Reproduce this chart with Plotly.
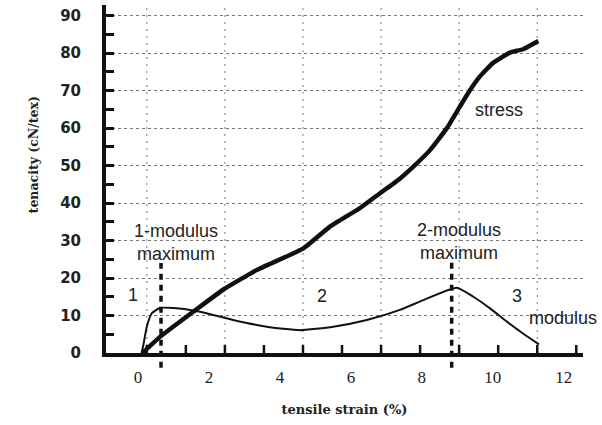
import plotly.graph_objects as go

# ---- data ----
stress_strain = [0.13, 0.62, 1.63, 2.42, 3.34, 4.66, 5.41, 6.25, 6.82, 7.38, 7.76,
                 8.23, 8.7, 9.07, 9.35, 9.63, 10.0, 10.48, 10.85, 11.28]
stress_tenacity = [0, 4.3, 11.5, 17, 22.1, 27.9, 33.7, 38.6, 42.6, 46.5, 49.7,
                   54.1, 59.9, 65.7, 70, 73.7, 77.3, 80.1, 81, 83.2]

modulus_strain = [0.1, 0.15, 0.25, 0.39, 0.62, 1.0, 1.75, 2.68, 3.63, 4.56, 5.5,
                  6.45, 7.38, 8.04, 8.98, 9.45, 9.92, 10.39, 10.85, 11.3]
modulus_value = [0, 2, 7, 10.6, 12, 12, 11, 8.8, 7, 6.1, 7,
                 8.8, 11.5, 14.1, 17.4, 15, 11.9, 8.4, 5.2, 2.3]

peak_strain = [0.65, 8.84]          # modulus maxima (dashed markers)
peak_marker_top = [24.0, 24.3]      # tenacity units
peak_marker_bottom = -3.9

x_tick_values = [0, 2, 4, 6, 8, 10, 12]
y_label_values = [0, 10, 20, 30, 40, 50, 60, 70, 80, 90]
y_half_values = [5, 15, 25, 35, 45, 55, 65, 75, 85]
# the scanned original's tick marks / grid are offset from its labels
x_mark_tick0, x_mark_step, x_mark_count = 0.25, 1.1, 12
x_grid_strain = [0.25, 2.45, 4.65, 6.85, 9.05, 11.25]

region_labels = ["1", "2", "3"]
region_x = [-0.13, 5.18, 10.67]
region_y = [15.6, 15.3, 15.3]

X_RANGE = [-0.9, 12.54]
Y_RANGE = [0, 92.8]
PLOT_H_PX = 425 - 5 - 72
X_TICK_LEN_PX = 8

INK = "#111111"
GRID = "#777777"
GRID_DASH = "2px,5px"


def y_paper(v):
    return (v - Y_RANGE[0]) / (Y_RANGE[1] - Y_RANGE[0])


def segments(pairs):
    xs, ys = [], []
    for (xa, ya), (xb, yb) in pairs:
        xs += [xa, xb, None]
        ys += [ya, yb, None]
    return xs, ys


fig = go.Figure()

# dotted vertical grid of the original (drawn underneath the curves)
gx, gy = segments([((g, Y_RANGE[0]), (g, Y_RANGE[1])) for g in x_grid_strain])
fig.add_trace(go.Scatter(x=gx, y=gy, mode="lines", name="grid",
                         showlegend=False, hoverinfo="skip",
                         line=dict(color=GRID, width=1, dash=GRID_DASH)))

# x-axis tick marks of the original (pointing up into the plot)
tick_len_units = X_TICK_LEN_PX * (Y_RANGE[1] - Y_RANGE[0]) / PLOT_H_PX
marks = [x_mark_tick0 + k * x_mark_step for k in range(x_mark_count)]
tx, ty = segments([((m, Y_RANGE[0]), (m, tick_len_units)) for m in marks])
fig.add_trace(go.Scatter(x=tx, y=ty, mode="lines", name="ticks",
                         showlegend=False, hoverinfo="skip",
                         line=dict(color=INK, width=2.5)))

fig.add_trace(go.Scatter(
    x=stress_strain, y=stress_tenacity, mode="lines", name="stress",
    line=dict(color=INK, width=4.5, shape="spline", smoothing=0.4),
    showlegend=False, hoverinfo="skip"))
fig.add_trace(go.Scatter(
    x=modulus_strain, y=modulus_value, mode="lines", name="modulus",
    line=dict(color=INK, width=2, shape="spline", smoothing=0.5),
    showlegend=False, hoverinfo="skip"))

# tails of the dashed peak markers, below the strain axis
fig.add_trace(go.Scatter(
    x=peak_strain, y=[peak_marker_bottom / 2] * len(peak_strain),
    mode="markers", cliponaxis=False, name="tails",
    showlegend=False, hoverinfo="skip",
    marker=dict(symbol="line-ns-open", size=11,
                line=dict(color=INK, width=3.5))))

# empty trace so the tick-mark axis (y2) is drawn
fig.add_trace(go.Scatter(x=[None], y=[None], yaxis="y2",
                         showlegend=False, hoverinfo="skip"))

shapes = []
for xs, top in zip(peak_strain, peak_marker_top):
    shapes.append(dict(
        type="line", xref="paper", yref="paper",
        x0=(xs - X_RANGE[0]) / (X_RANGE[1] - X_RANGE[0]),
        x1=(xs - X_RANGE[0]) / (X_RANGE[1] - X_RANGE[0]),
        y0=y_paper(peak_marker_bottom), y1=y_paper(top),
        line=dict(color=INK, width=3.5, dash="6px,5px")))

sans = "Liberation Sans, Arial, sans-serif"
TXT = "#222222"
annotations = [
    dict(x=10.17, y=64.8, xref="x", yref="y", text="stress", showarrow=False,
         font=dict(family=sans, size=18, color=TXT)),
    dict(x=1.06, y=29.6, xref="x", yref="y", text="1-modulus<br>maximum",
         showarrow=False, font=dict(family=sans, size=18, color=TXT)),
    dict(x=9.05, y=29.7, xref="x", yref="y", text="2-modulus<br>maximum",
         showarrow=False, font=dict(family=sans, size=18, color=TXT)),
    dict(x=11.97, y=9.25, xref="x", yref="y", text="modulus", showarrow=False,
         font=dict(family=sans, size=18, color=TXT)),
    dict(x=-0.17, y=0.569, xref="paper", yref="paper",
         text="<b>tenacity (cN/tex)</b>",
         textangle=-90, showarrow=False,
         font=dict(family="DejaVu Serif", size=12.5, color=TXT)),
]
for lab, lx, ly in zip(region_labels, region_x, region_y):
    annotations.append(dict(x=lx, y=ly, xref="x", yref="y", text=lab,
                            showarrow=False,
                            font=dict(family=sans, size=18, color=TXT)))

fig.update_layout(
    width=602, height=425,
    margin=dict(l=106, r=19, t=5, b=72),
    paper_bgcolor="white", plot_bgcolor="white",
    showlegend=False,
    shapes=shapes,
    annotations=annotations,
    xaxis=dict(
        range=X_RANGE, tickmode="array", tickvals=x_tick_values,
        ticks="outside", ticklen=6, tickcolor="rgba(0,0,0,0)",
        showgrid=False, zeroline=False,
        showline=True, linewidth=3.5, linecolor=INK,
        tickfont=dict(family="Liberation Serif", size=17, color=TXT),
        title=dict(text="<b>tensile strain (%)</b>", standoff=20,
                   font=dict(family="DejaVu Serif", size=13, color=TXT)),
    ),
    yaxis=dict(
        range=Y_RANGE, tickmode="array", tickvals=y_label_values,
        ticktext=["<b>%d</b>" % v for v in y_label_values],
        ticks="outside", ticklen=18, tickcolor="rgba(0,0,0,0)",
        showline=True, linewidth=4, linecolor=INK, zeroline=False,
        showgrid=True, gridcolor=GRID, gridwidth=1, griddash="dot",
        tickfont=dict(family="DejaVu Sans", size=15, color=TXT),
    ),
    yaxis2=dict(
        overlaying="y", anchor="x", side="left", range=Y_RANGE,
        tickmode="array", tickvals=y_label_values + y_half_values,
        ticks="inside", ticklen=8, tickwidth=2.5, tickcolor=INK,
        showticklabels=False, showgrid=False, showline=False, zeroline=False,
    ),
)

fig.write_html("out.html")
